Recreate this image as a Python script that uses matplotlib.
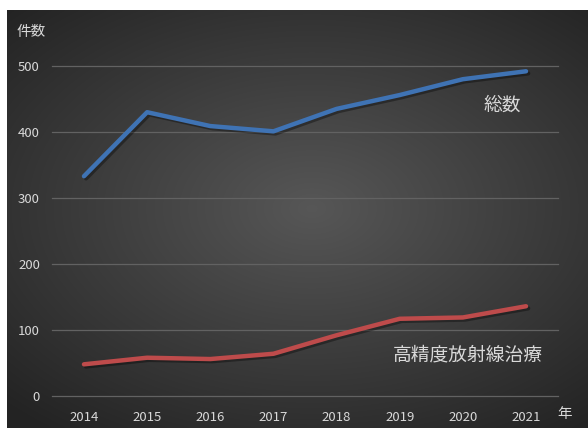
import numpy as np
import matplotlib
matplotlib.use("Agg")
import matplotlib.pyplot as plt
import matplotlib.patheffects as pe

plt.rcParams['font.family'] = ['Noto Sans CJK JP', 'DejaVu Sans']

years = ['2014', '2015', '2016', '2017', '2018', '2019', '2020', '2021']
total = [333, 430, 409, 401, 435, 456, 480, 492]
high_precision = [48, 58, 56, 64, 92, 117, 119, 136]
y_ticks = [0, 100, 200, 300, 400, 500]

W, H = 588, 428
fig = plt.figure(figsize=(W / 100, H / 100), dpi=100)
fig.patch.set_facecolor('white')

# dark panel with radial gradient
bg = fig.add_axes([7 / W, 0, (W - 7) / W, (H - 10) / H])
gx, gy = np.meshgrid(np.linspace(-1, 1, 300), np.linspace(-1, 1, 220))
r = np.sqrt(((gx - 0.05) * 0.9) ** 2 + ((gy + 0.05) * 1.0) ** 2)
shade = np.clip(0.34 - 0.15 * r, 0.14, 0.34)
img = np.dstack([shade, shade, shade])
bg.imshow(img, aspect='auto', extent=[0, 1, 0, 1], interpolation='bicubic')
bg.set_axis_off()

ax = fig.add_axes([52.4 / W, (H - 396) / H, (557.6 - 52.4) / W, 330 / H])
ax.patch.set_alpha(0)
ax.set_xlim(-0.5, len(years) - 0.5)
ax.set_ylim(0, 500)

txt = '#d9d9d9'
for v in y_ticks:
    ax.axhline(v, color='#626262', lw=0.9, zorder=1, clip_on=False)

x = np.arange(len(years))
shadow = [pe.SimpleLineShadow(offset=(1.5, -1.5), shadow_color='black', alpha=0.35), pe.Normal()]
ax.plot(x, total, color='#3f73b4', lw=3.2, solid_capstyle='round', solid_joinstyle='round',
        zorder=3, clip_on=False, path_effects=shadow)
ax.plot(x, high_precision, color='#be4b4b', lw=3.2, solid_capstyle='round', solid_joinstyle='round',
        zorder=3, clip_on=False, path_effects=shadow)

ax.set_xticks(x)
ax.set_xticklabels(years)
ax.set_yticks(y_ticks)
ax.tick_params(axis='both', length=0, colors=txt, labelsize=9.5)
ax.tick_params(axis='x', pad=11)
ax.tick_params(axis='y', pad=9)
for s in ax.spines.values():
    s.set_visible(False)

fig.text(17 / W, 1 - 32 / H, '件数', color=txt, fontsize=10.5, va='center', ha='left')
fig.text(565 / W, 1 - 414 / H, '年', color=txt, fontsize=10.5, va='center', ha='center')
fig.text(483 / W, 1 - 105 / H, '総数', color=txt, fontsize=13.5, va='center', ha='left')
fig.text(393 / W, 1 - 355 / H, '高精度放射線治療', color=txt, fontsize=13.5, va='center', ha='left')

fig.savefig('out.png', dpi=100)
